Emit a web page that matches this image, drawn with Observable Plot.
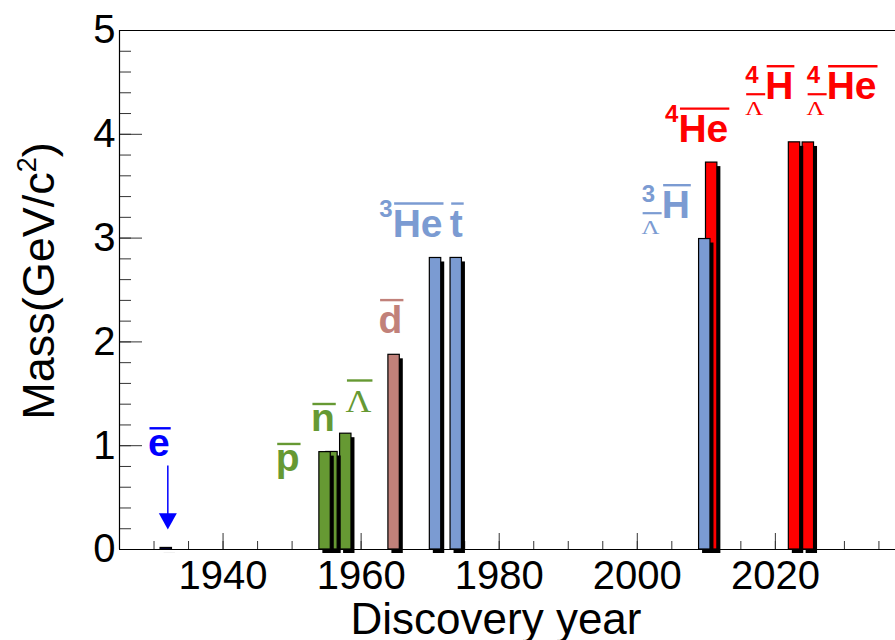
<!DOCTYPE html>
<html>
<head>
<meta charset="utf-8">
<script src="https://cdn.jsdelivr.net/npm/d3@7"></script>
<script src="https://cdn.jsdelivr.net/npm/@observablehq/plot@0.6"></script>
<style>
  html, body { margin: 0; padding: 0; background: #fff; overflow: hidden; }
  #chart svg { display: block; }
</style>
</head>
<body>
<div id="chart"></div>
<script>
// Antiparticles and antinuclei: year of discovery and mass in GeV/c^2
const particles = ["e", "p", "n", "Lambda", "d", "He3", "t", "H3L", "He4", "H4L", "He4L"];
const years     = [1932, 1955, 1956, 1958, 1965, 1971, 1974, 2010, 2011, 2023, 2025];
const masses    = [0.000511, 0.938, 0.9396, 1.1157, 1.8756, 2.8084, 2.8089, 2.991, 3.7274, 3.9226, 3.9215];
const families  = ["lepton", "baryon", "baryon", "baryon", "deuteron", "A3", "A3", "A3", "A4", "A4", "A4"];

const xTickValues = [1940, 1960, 1980, 2000, 2020];
const yTickValues = [0, 1, 2, 3, 4, 5];

// Particle labels: text, prescripts, colour family and anchor (year, mass at baseline)
const labelNames  = ["e", "p", "n", "Λ", "d", "He", "t", "H", "He", "H", "He"];
const labelSup    = [null, null, null, null, null, "3", null, "3", "4", "4", "4"];
const labelSub    = [null, null, null, null, null, null, null, "Λ", null, "Λ", "Λ"];
const labelFamily = ["lepton", "baryon", "baryon", "baryon", "deuteron", "A3", "A3", "A3", "A4", "A4", "A4"];
const labelYear   = [1929.2, 1947.7, 1952.8, 1957.8, 1962.6, 1962.7, 1972.9, 2000.7, 2004.1, 2015.7, 2024.6];
const labelMass   = [0.898, 0.747, 1.132, 1.319, 2.080, 3.010, 3.010, 3.187, 3.925, 4.333, 4.333];

// Arrow pointing at the (almost massless) positron bar
const arrowYear = 1932, arrowFrom = 0.805, arrowTip = 0.193;

const barColor   = {lepton: "#00007f", baryon: "#669933", deuteron: "#c1817a", A3: "#7b9bd2", A4: "#ff0000"};
const labelColor = {lepton: "#0000ff", baryon: "#669933", deuteron: "#c1817a", A3: "#7b9bd2", A4: "#ff0000"};

const SANS = "'Liberation Sans', Arial, Helvetica, sans-serif";
const SERIF = "'Liberation Serif', 'Times New Roman', serif";

const W = 895, H = 640;
const M = {top: 30, right: 0, bottom: 91, left: 119};
const frameW = W - M.left - M.right, frameH = H - M.top - M.bottom;
const BAR_LEFT = 1.05, BAR_RIGHT = 0.6;   // bar extent around the year

const rows = particles.map((p, i) => ({p, year: years[i], mass: masses[i], family: families[i]}));
// later discoveries are drawn first so earlier bars overlap them
const drawOrder = rows.slice().sort((a, b) => b.year - a.year);

const barMarks = drawOrder.flatMap(d => [
  Plot.rect([d], {x1: r => r.year - BAR_LEFT, x2: r => r.year + BAR_RIGHT, y1: 0, y2: "mass",
                  fill: "black", dx: 3.5, dy: 4}),
  Plot.rect([d], {x1: r => r.year - BAR_LEFT, x2: r => r.year + BAR_RIGHT, y1: 0, y2: "mass",
                  fill: barColor[d.family], stroke: "black", strokeWidth: 1.2,
                  insetTop: d.mass < 0.01 ? -1.5 : 0})
]);

const xMinor = d3.range(1925, 2038, 5);
const yMinor = d3.range(0, 5.001, 0.2);

const downTriangle = {
  draw(ctx) { ctx.moveTo(0, 0); ctx.lineTo(-9, -16.3); ctx.lineTo(9, -16.3); ctx.closePath(); }
};

const plot = Plot.plot({
  width: W, height: H,
  marginTop: M.top, marginRight: M.right, marginBottom: M.bottom, marginLeft: M.left,
  style: {fontFamily: SANS, fontSize: "40px", background: "white", color: "black"},
  x: {domain: [1925, 2037.4], label: null},
  y: {domain: [0, 5], label: null},
  marks: [
    // minor and major ticks, pointing into the frame
    Plot.ruleX(xMinor, {insetTop: frameH - 8, stroke: "#333", strokeWidth: 1}),
    Plot.ruleX(xTickValues, {insetTop: frameH - 16, stroke: "#333", strokeWidth: 1}),
    Plot.ruleY(yMinor, {insetRight: frameW - 12, stroke: "#333", strokeWidth: 1}),
    Plot.ruleY(yTickValues, {insetRight: frameW - 23, stroke: "#333", strokeWidth: 1}),
    ...barMarks,
    // frame lines
    Plot.ruleY([5], {stroke: "black", strokeWidth: 1.2}),
    Plot.ruleY([0], {stroke: "black", strokeWidth: 1.2}),
    Plot.ruleX([1925], {stroke: "black", strokeWidth: 1.2}),
    // positron arrow
    Plot.ruleX([arrowYear], {y1: arrowFrom, y2: arrowTip + 0.1, stroke: "#0000ff", strokeWidth: 1.5}),
    Plot.dot([arrowYear], {x: d => d, y: arrowTip, symbol: downTriangle, r: 5, fill: "#0000ff", stroke: "none"}),
    Plot.axisX({ticks: xTickValues, tickSize: 0, tickPadding: 11, tickFormat: d => String(d),
                fontSize: 40, anchor: "bottom", label: null}),
    Plot.axisY({ticks: yTickValues, tickSize: 0, tickPadding: 4, tickFormat: d => String(d),
                fontSize: 40, anchor: "left", label: null})
  ]
});

document.getElementById("chart").append(plot);

const xs = plot.scale("x"), ys = plot.scale("y");
const svg = d3.select(plot);

// axis titles
svg.append("text")
  .attr("x", 496).attr("y", 634)
  .attr("text-anchor", "middle").attr("font-family", SANS).attr("font-size", 44).attr("fill", "black")
  .text("Discovery year");

const yTitle = svg.append("text")
  .attr("transform", "translate(54,281) rotate(-90)")
  .attr("text-anchor", "middle").attr("font-family", SANS).attr("font-size", 45).attr("fill", "black");
yTitle.append("tspan").text("Mass(GeV/c");
yTitle.append("tspan").attr("font-size", 27).attr("dy", -18).text("2");
yTitle.append("tspan").attr("dy", 18).text(")");

// particle labels with overline bars and nuclear prescripts
const lg = svg.append("g").attr("font-family", SANS).attr("text-anchor", "start");
const tall = /[A-Zdtbhklf\u039b]/;
labelNames.forEach((name, i) => {
  const color = labelColor[labelFamily[i]];
  const x0 = xs.apply(labelYear[i]), y0 = ys.apply(labelMass[i]);
  const g = lg.append("g").attr("fill", color);
  let mainX = x0;
  if (labelSup[i]) {
    const sup = g.append("text")
      .attr("x", x0).attr("y", y0 - (labelSub[i] ? 16.5 : 20))
      .attr("font-size", 24).attr("font-weight", "bold").text(labelSup[i]);
    let w = sup.node().getComputedTextLength();
    if (labelSub[i]) {
      g.append("text")
        .attr("x", x0).attr("y", y0 + 15.5)
        .attr("font-family", SERIF).attr("font-size", 19)
        .attr("textLength", 18).attr("lengthAdjust", "spacingAndGlyphs")
        .text(labelSub[i]);
      g.append("line")
        .attr("x1", x0 + 1).attr("x2", x0 + 20).attr("y1", y0 - 5).attr("y2", y0 - 5)
        .attr("stroke", color).attr("stroke-width", 2.2);
      w = 20;
    }
    mainX = x0 + w;
  }
  const serif = name === "Λ";
  const main = g.append("text")
    .attr("x", mainX).attr("y", y0)
    .attr("font-family", serif ? SERIF : SANS)
    .attr("font-size", serif ? 31 : 39)
    .attr("font-weight", serif ? "normal" : "bold")
    .text(name);
  if (serif) main.attr("textLength", 26).attr("lengthAdjust", "spacingAndGlyphs");
  const mw = serif ? 26 : main.node().getComputedTextLength();
  const rise = serif ? 31.6 : (tall.test(name) ? 33 : 27.5);
  g.append("line")
    .attr("x1", mainX + 1.5).attr("x2", mainX + mw + 1)
    .attr("y1", y0 - rise).attr("y2", y0 - rise)
    .attr("stroke", color).attr("stroke-width", 2.4);
});
</script>
</body>
</html>
